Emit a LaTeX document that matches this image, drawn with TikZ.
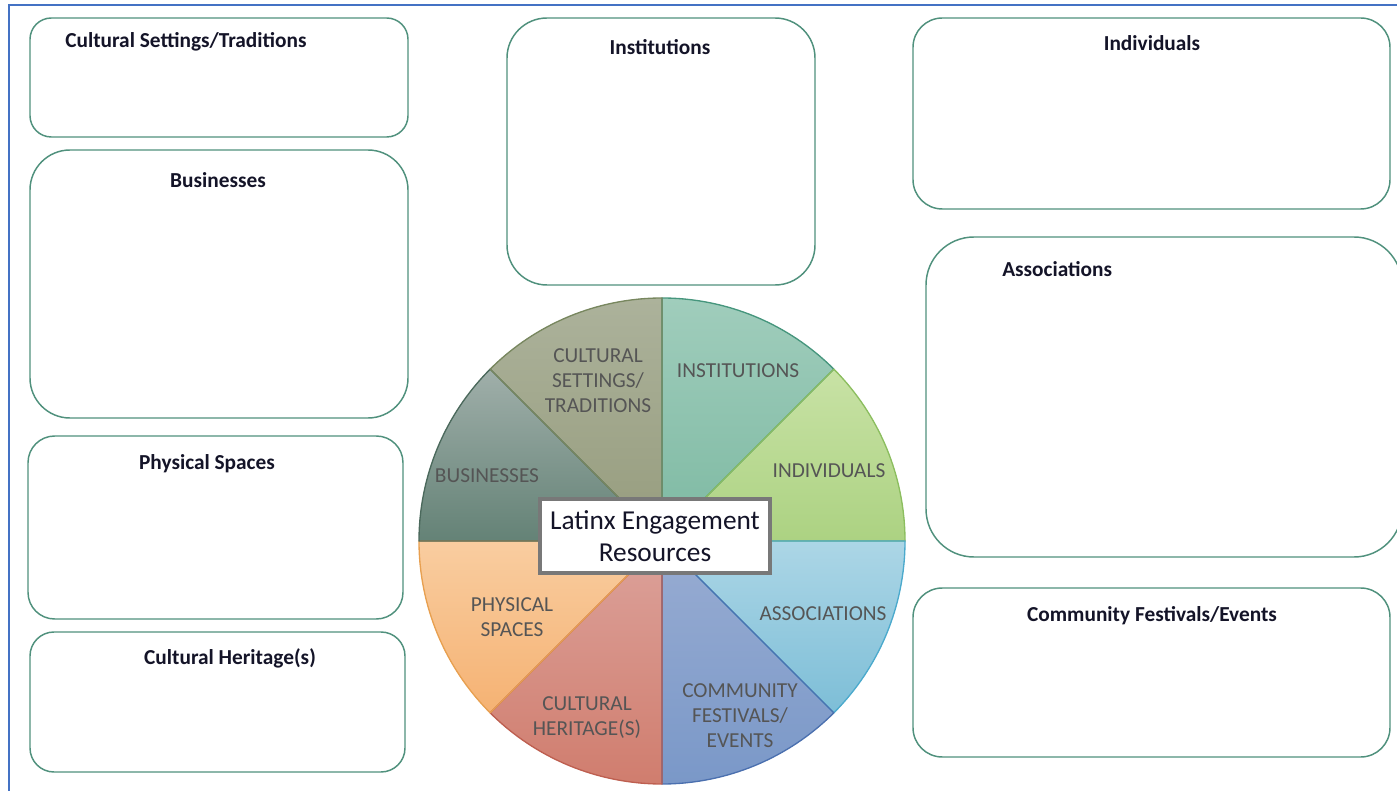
\documentclass[tikz,border=0pt]{standalone}
\usepackage{fontspec}
\setmainfont{Carlito}
\definecolor{boxgreen}{RGB}{80,145,125}
\definecolor{framblue}{RGB}{68,114,196}
\definecolor{titlecol}{RGB}{20,20,40}
\definecolor{labgray}{RGB}{85,85,85}
\definecolor{ctrgray}{RGB}{120,120,120}
\definecolor{instT}{RGB}{160,205,188}\definecolor{instB}{RGB}{125,185,162}\definecolor{instE}{RGB}{70,150,125}
\definecolor{indiT}{RGB}{200,226,165}\definecolor{indiB}{RGB}{172,210,130}\definecolor{indiE}{RGB}{140,190,95}
\definecolor{assoT}{RGB}{172,214,230}\definecolor{assoB}{RGB}{125,190,215}\definecolor{assoE}{RGB}{75,170,205}
\definecolor{commT}{RGB}{152,172,210}\definecolor{commB}{RGB}{122,152,200}\definecolor{commE}{RGB}{75,112,175}
\definecolor{heriT}{RGB}{220,162,155}\definecolor{heriB}{RGB}{208,125,110}\definecolor{heriE}{RGB}{190,95,80}
\definecolor{physT}{RGB}{249,205,160}\definecolor{physB}{RGB}{245,178,115}\definecolor{physE}{RGB}{232,160,80}
\definecolor{busiT}{RGB}{160,175,170}\definecolor{busiB}{RGB}{100,130,118}\definecolor{busiE}{RGB}{75,105,92}
\definecolor{settT}{RGB}{172,178,155}\definecolor{settB}{RGB}{150,156,125}\definecolor{settE}{RGB}{120,135,95}
\tikzset{
  box/.style={draw=boxgreen, line width=1.1pt, fill=white},
  title/.style={font=\bfseries\fontsize{16}{19}\selectfont, text=titlecol, anchor=base, inner sep=0pt},
  plabel/.style={font=\fontsize{16}{18.75}\selectfont, text=labgray, align=center, inner sep=0pt}
}
\begin{document}
\begin{tikzpicture}[x=0.75pt,y=-0.75pt]
\useasboundingbox (0,0) rectangle (1397,791);
\begin{scope}
\clip (0,0) rectangle (1397,791);
% frame
\draw[framblue, line width=1.5pt] (9,791) -- (9,5) -- (1400,5);
% boxes
\draw[box, rounded corners=16pt] (30,18) rectangle (408,137);
\draw[box, rounded corners=30pt] (30,150) rectangle (408,418);
\draw[box, rounded corners=20pt] (28,436) rectangle (403,619);
\draw[box, rounded corners=18pt] (30,632) rectangle (405,772);
\draw[box, rounded corners=30pt] (507,18) rectangle (815,285);
\draw[box, rounded corners=22pt] (913,18) rectangle (1390,209);
\draw[box, rounded corners=36pt] (926,237) rectangle (1402,557);
\draw[box, rounded corners=22pt] (913,588) rectangle (1390,757);
% titles
\node[title, anchor=base west] (tset) at (65,48) {Cultural Settings/Traditions};
\node[title] (tbus) at (218,188) {Businesses};
\node[title] (tphy) at (207,470) {Physical Spaces};
\node[title] (ther) at (230,664) {Cultural Heritage(s)};
\node[title] (tins) at (660,55) {Institutions};
\node[title] (tind) at (1152,51) {Individuals};
\node[title, anchor=base west] (tass) at (1002,277) {Associations};
\node[title] (tcom) at (1152,621) {Community Festivals/Events};
% pie
\coordinate (C) at (662,541);
\foreach \s/\e/\sl in {-90/-45/inst, -45/0/indi, 0/45/asso, 45/90/comm, 90/135/heri, 135/180/phys, 180/225/busi, 225/270/sett}{
  \fill[top color=\sl T, bottom color=\sl B] (C) -- ++(\s:243) arc[start angle=\s, end angle=\e, radius=243] -- cycle;
}
\foreach \s/\e/\sl in {-90/-45/inst, -45/0/indi, 0/45/asso, 45/90/comm, 90/135/heri, 135/180/phys, 180/225/busi, 225/270/sett}{
  \draw[\sl E, line width=1pt, line join=round] (C) -- ++(\s:243) arc[start angle=\s, end angle=\e, radius=243] -- cycle;
}
% pie labels
\node[plabel] (lset) at (598,381) {CULTURAL\\SETTINGS/\\TRADITIONS};
\node[plabel] (lins) at (738,371) {INSTITUTIONS};
\node[plabel] (lind) at (829,471) {INDIVIDUALS};
\node[plabel] (lbus) at (487,476) {BUSINESSES};
\node[plabel] (lphy) at (512,617) {PHYSICAL\\SPACES};
\node[plabel] (lher) at (587,718) {CULTURAL\\HERITAGE(S)};
\node[plabel] (lcom) at (740,716) {COMMUNITY\\FESTIVALS/\\EVENTS};
\node[plabel] (lass) at (823,614) {ASSOCIATIONS};
% center box
\node[draw=ctrgray, line width=2.8pt, fill=white, minimum width=172.5pt, minimum height=56pt, align=center, inner sep=0pt, font=\fontsize{20.5}{24}\selectfont, text=titlecol] (ctr) at (655,536) {Latinx Engagement\\Resources};
\end{scope}
\end{tikzpicture}
\end{document}
